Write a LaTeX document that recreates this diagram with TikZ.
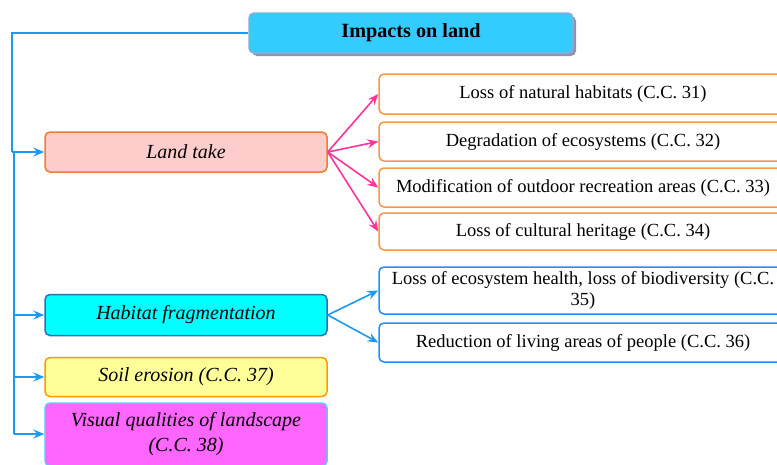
\documentclass[tikz,border=0pt]{standalone}
\usepackage{fontspec}
\setmainfont{Liberation Serif}
\usetikzlibrary{arrows.meta,shadows}
\definecolor{topfill}{HTML}{33CCFF}
\definecolor{topborder}{HTML}{8EA9DB}
\definecolor{topshadow}{HTML}{8C96B4}
\definecolor{bline}{HTML}{1A9AF0}
\definecolor{landfill}{HTML}{FFCCCC}
\definecolor{landborder}{HTML}{ED7D31}
\definecolor{habfill}{HTML}{00FFFF}
\definecolor{habborder}{HTML}{2F6DB5}
\definecolor{soilfill}{HTML}{FFFF99}
\definecolor{soilborder}{HTML}{FF9900}
\definecolor{visfill}{HTML}{FF66FF}
\definecolor{visborder}{HTML}{5BC8F5}
\definecolor{orborder}{HTML}{F79646}
\definecolor{pinkline}{HTML}{FF3399}
\definecolor{blborder}{HTML}{1E90FF}
\tikzset{
  box/.style={draw, rounded corners=5pt, line width=1.5pt, align=center, inner sep=2pt},
  leftbox/.style={box, minimum width=282pt, font=\fontsize{20}{25}\selectfont\itshape},
  rightbox/.style={box, minimum width=408pt, fill=white, font=\fontsize{18.5}{21}\selectfont},
  bconn/.style={draw=bline, line width=1.6pt},
  barrow/.style={bconn, -{Stealth[length=11pt,width=9pt,inset=4pt]}},
  parrow/.style={draw=pinkline, line width=1.6pt, -{Stealth[length=11pt,width=9pt,inset=4pt]}}
}
\begin{document}
\begin{tikzpicture}[x=1pt,y=-1pt]
\useasboundingbox (0,0) rectangle (777,464);
\clip (0,0) rectangle (777,464);
% main box
\node[box, fill=topfill, draw=topborder, minimum width=324pt, minimum height=40pt,
      font=\fontsize{20.2}{24}\selectfont\bfseries,
      drop shadow={shadow xshift=3pt, shadow yshift=-3pt, fill=topshadow, opacity=1}]
      (top) at (411,33) {Impacts on land};
% left boxes
\node[leftbox, fill=landfill, draw=landborder, minimum height=40pt] (land) at (186,152) {Land take};
\node[leftbox, fill=habfill, draw=habborder, minimum height=41pt] (hab) at (186,315) {Habitat fragmentation};
\node[leftbox, fill=soilfill, draw=soilborder, minimum height=39pt] (soil) at (186,377) {Soil erosion (C.C. 37)};
\node[leftbox, fill=visfill, draw=visborder, minimum height=63pt] (vis) at (186,434.5) {Visual qualities of landscape\\(C.C. 38)};
% right orange boxes
\node[rightbox, draw=orborder, minimum height=40pt] (r1) at (583,94) {Loss of natural habitats (C.C. 31)};
\node[rightbox, draw=orborder, minimum height=39pt] (r2) at (583,141.5) {Degradation of ecosystems (C.C. 32)};
\node[rightbox, draw=orborder, minimum height=39pt] (r3) at (583,187.5) {Modification of outdoor recreation areas (C.C. 33)};
\node[rightbox, draw=orborder, minimum height=37pt] (r4) at (583,231.5) {Loss of cultural heritage (C.C. 34)};
% right blue boxes
\node[rightbox, draw=blborder, minimum height=47pt] (b1) at (583,290.5) {Loss of ecosystem health, loss of biodiversity (C.C.\\35)};
\node[rightbox, draw=blborder, minimum height=39pt] (b2) at (583,342.5) {Reduction of living areas of people (C.C. 36)};
% trunk connectors
\coordinate (j1) at (12,152);
\coordinate (j2) at (14,152);
\coordinate (j3) at (14,434);
\draw[bconn] (top.west) -| (j1);
\draw[barrow] (j1) -- (land.west);
\draw[bconn] (j2) -- (j3);
\draw[barrow] (hab.west -| j2) -- (hab.west);
\draw[barrow] (soil.west -| j2) -- (soil.west);
\draw[barrow] (j3) -- (vis.west |- j3);
% pink arrows
\draw[parrow] (land.east) -- (r1.west);
\draw[parrow] (land.east) -- (r2.west);
\draw[parrow] (land.east) -- (r3.west);
\draw[parrow] (land.east) -- (r4.west);
% blue arrows
\draw[barrow] (hab.east) -- (b1.west);
\draw[barrow] (hab.east) -- (b2.west);
\end{tikzpicture}
\end{document}
